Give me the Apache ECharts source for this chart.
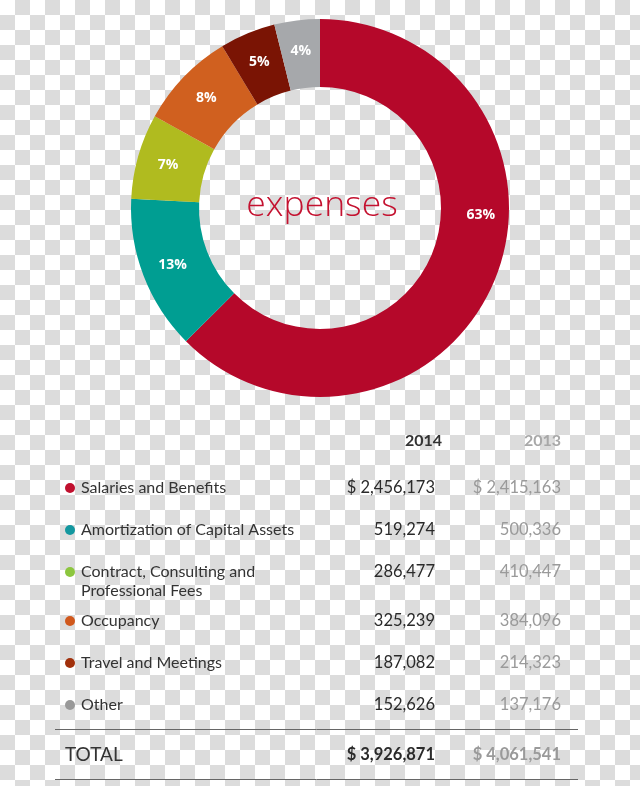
<!DOCTYPE html>
<html>
<head>
<meta charset="utf-8">
<script src="https://cdn.jsdelivr.net/npm/echarts@6/dist/echarts.min.js"></script>
<style>
  html, body { margin: 0; padding: 0; }
  body {
    width: 640px; height: 786px;
    background-color: #fff;
    background-image: conic-gradient(#dcdcdc 25%, #ffffff 0 50%, #dcdcdc 0 75%, #ffffff 0);
    background-size: 30px 30px;
  }
  #chart { width: 640px; height: 786px; }
</style>
</head>
<body>
<div id="chart"></div>
<script>
// ---- data ----
const categories = [
  'Salaries and Benefits',
  'Amortization of Capital Assets',
  'Contract, Consulting and\nProfessional Fees',
  'Occupancy',
  'Travel and Meetings',
  'Other'
];
const values2014 = [2456173, 519274, 286477, 325239, 187082, 152626];
const values2013 = [2415163, 500336, 410447, 384096, 214323, 137176];
const yearLabels = ['2014', '2013'];
const centerTitle = 'expenses';
const totalLabel = 'TOTAL';

// ---- styles ----
const sliceColors = ['#b5082a', '#009e92', '#b0bb1f', '#d0601f', '#7a1404', '#a6a8ab'];
const dotColors = ['#c0102e', '#13979f', '#8cc63e', '#d0581c', '#a1300b', '#999999'];

const fmt = v => v.toLocaleString('en-US');
const total2014 = values2014.reduce((a, b) => a + b, 0);
const total2013 = values2013.reduce((a, b) => a + b, 0);

const rowY = [488, 530, 572, 621, 663, 705];
const labelFont = '16px Lato';
const valueFont = '16.5px Lato';

const graphics = [];
graphics.push({
  type: 'text', x: 322, y: 206,
  style: { text: centerTitle, font: '300 35.5px "Open Sans"', fill: '#c41230', textAlign: 'center', textVerticalAlign: 'middle' }
});
graphics.push({
  type: 'text', x: 442, y: 441,
  style: { text: yearLabels[0], font: 'bold 16px Lato', fill: '#333', textAlign: 'right', textVerticalAlign: 'middle' }
});
graphics.push({
  type: 'text', x: 561, y: 441,
  style: { text: yearLabels[1], font: 'bold 16px Lato', fill: '#a8a8a8', textAlign: 'right', textVerticalAlign: 'middle' }
});
categories.forEach((c, i) => {
  const y = rowY[i];
  graphics.push({ type: 'circle', shape: { cx: 70, cy: y, r: 5 }, style: { fill: dotColors[i] } });
  graphics.push({
    type: 'text', x: 81, y: y - 9.5,
    style: { text: c, font: labelFont, fill: '#333', textAlign: 'left', textVerticalAlign: 'top', lineHeight: 19 }
  });
  graphics.push({
    type: 'text', x: 435, y: y,
    style: { text: (i === 0 ? '$ ' : '') + fmt(values2014[i]), font: valueFont, fill: '#2a2a2a', textAlign: 'right', textVerticalAlign: 'middle' }
  });
  graphics.push({
    type: 'text', x: 561, y: y,
    style: { text: (i === 0 ? '$ ' : '') + fmt(values2013[i]), font: valueFont, fill: '#9a9a9a', textAlign: 'right', textVerticalAlign: 'middle' }
  });
});
graphics.push({ type: 'line', shape: { x1: 55, y1: 729.5, x2: 578, y2: 729.5 }, style: { stroke: '#666', lineWidth: 1 } });
graphics.push({ type: 'line', shape: { x1: 55, y1: 779.5, x2: 578, y2: 779.5 }, style: { stroke: '#666', lineWidth: 1 } });
graphics.push({
  type: 'text', x: 65, y: 755,
  style: { text: totalLabel, font: '19px Lato', fill: '#333', textAlign: 'left', textVerticalAlign: 'middle' }
});
graphics.push({
  type: 'text', x: 435, y: 755,
  style: { text: '$ ' + fmt(total2014), font: 'bold 16.5px Lato', fill: '#2a2a2a', textAlign: 'right', textVerticalAlign: 'middle' }
});
graphics.push({
  type: 'text', x: 561, y: 755,
  style: { text: '$ ' + fmt(total2013), font: 'bold 16.5px Lato', fill: '#9a9a9a', textAlign: 'right', textVerticalAlign: 'middle' }
});

const chart = echarts.init(document.getElementById('chart'), null, { renderer: 'canvas' });
chart.setOption({
  backgroundColor: 'transparent',
  animation: false,
  series: [{
    type: 'pie',
    center: [320, 208],
    radius: [121, 189],
    startAngle: 90,
    clockwise: true,
    avoidLabelOverlap: false,
    itemStyle: { borderWidth: 0 },
    label: {
      show: true,
      position: 'inside',
      color: '#fff',
      fontFamily: '"Open Sans"',
      fontWeight: 'bold',
      fontSize: 14,
      formatter: p => Math.round(p.percent) + '%'
    },
    labelLine: { show: false },
    labelLayout: p => (p.dataIndex === 0 ? { dx: 15, dy: -54 } : {}),
    emphasis: { disabled: true },
    data: categories.map((c, i) => ({ name: c, value: values2014[i], itemStyle: { color: sliceColors[i] } }))
  }],
  graphic: graphics
});
</script>
</body>
</html>
